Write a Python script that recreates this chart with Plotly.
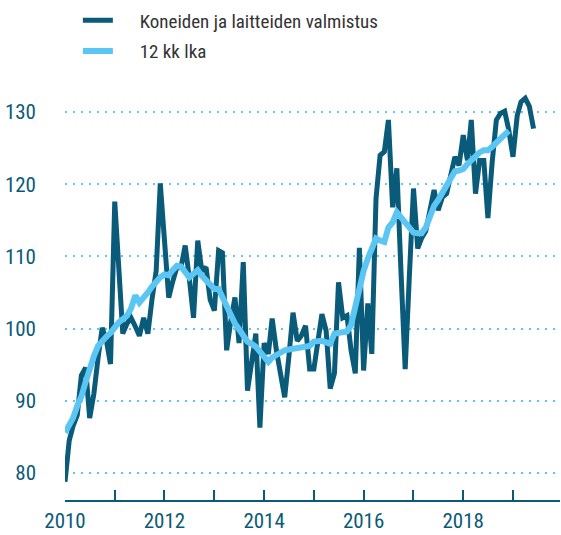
import pandas as pd
import plotly.graph_objects as go

DARK = "#0a5a79"
LIGHT = "#5bc6f3"

series_name = "Koneiden ja laitteiden valmistus"
ma_name = "12 kk lka"

start_month = "2010-01-01"

values = [
    78.8, 84.5, 86.5, 88.0, 93.5, 94.6, 87.6, 91.0, 96.0, 100.1, 98.3, 95.1,
    117.6, 107.5, 99.3, 100.7, 101.5, 100.3, 99.0, 101.5, 99.3, 104.0, 108.0, 120.1,
    111.0, 104.3, 106.5, 108.5, 108.5, 111.5, 107.0, 101.5, 112.2, 108.0, 108.5, 104.0,
    102.5, 110.8, 110.5, 97.0, 101.0, 104.3, 98.0, 109.2, 91.4, 95.0, 99.3, 86.3,
    98.0, 96.5, 101.4, 97.0, 94.0, 90.5, 96.0, 102.2, 98.3, 99.0, 100.4, 94.4,
    94.4, 98.0, 102.0, 99.7, 91.7, 93.8, 106.4, 101.5, 101.8, 97.0, 93.8, 111.2,
    94.2, 103.5, 96.5, 118.0, 124.0, 124.5, 128.9, 116.8, 122.2, 108.0, 94.4, 107.0,
    119.4, 111.1, 112.5, 113.5, 116.0, 119.2, 116.4, 118.2, 118.7, 121.5, 123.8, 122.6,
    126.8, 123.3, 128.9, 118.7, 123.3, 123.3, 115.3, 123.0, 128.9, 129.8, 130.1, 127.5,
    123.8, 129.5, 131.4, 131.9, 130.8, 127.7,
]

moving_avg = [
    85.6, 86.6, 87.6, 89.3, 90.6, 92.6, 94.6, 96.2, 97.6, 98.4, 98.9, 99.4,
    100.3, 100.9, 101.3, 101.8, 102.8, 104.6, 103.6, 104.2, 105.0, 105.8, 106.5, 107.1,
    107.5, 107.4, 108.1, 108.7, 108.6, 107.9, 107.1, 107.6, 108.1, 107.3, 106.6, 106.0,
    105.5, 105.5, 104.3, 103.0, 101.8, 100.7, 99.9, 99.0, 98.2, 97.9, 97.5, 96.8,
    96.0, 95.4, 96.0, 96.4, 96.7, 97.0, 97.1, 97.2, 97.3, 97.4, 97.3, 97.6,
    98.2, 98.3, 98.3, 98.1, 97.9, 99.3, 99.4, 99.4, 99.6, 100.5, 103.0, 106.0,
    108.0, 109.7, 111.3, 112.5, 112.2, 112.0, 114.0, 114.7, 116.1, 115.4, 114.7, 114.0,
    113.3, 113.2, 113.2, 114.0, 115.6, 117.0, 117.8, 118.8, 119.9, 121.0, 121.8, 121.9,
    122.1, 122.8, 123.4, 123.9, 124.4, 124.7, 124.7, 125.2, 125.7, 126.4, 126.9, 127.4,
]

tick_years = list(range(2010, 2020))
tick_labels = [str(y) if y % 2 == 0 else "" for y in tick_years]
y_ticks = [80, 90, 100, 110, 120, 130]

dates = pd.date_range(start_month, periods=len(values), freq="MS")
ma_dates = dates[: len(moving_avg)]

FONT = "Roboto Condensed, DejaVu Sans Condensed, sans-serif"
PAD = "\u00a0" * 5

fig = go.Figure()
fig.add_trace(go.Scatter(
    x=dates, y=values, mode="lines", name=PAD + series_name, legendgroup="a",
    line=dict(color=DARK, width=5),
))
fig.add_trace(go.Scatter(
    x=ma_dates, y=moving_avg, mode="lines", name=PAD + ma_name, legendgroup="b",
    line=dict(color=LIGHT, width=6),
))

fig.update_layout(
    width=561, height=535,
    margin=dict(l=65, r=1, t=90, b=35, autoexpand=False),
    paper_bgcolor="white", plot_bgcolor="white",
    font=dict(family=FONT, color=DARK, size=20),
    showlegend=True,
    legend=dict(
        x=0.026, y=1.216, xanchor="left", yanchor="top",
        font=dict(family=FONT, size=19, color="#333333"),
        bgcolor="rgba(0,0,0,0)", tracegroupgap=3,
    ),
    xaxis=dict(
        type="date",
        range=["2010-01-01", "2019-12-12"],
        tickvals=[f"{y}-01-01" for y in tick_years],
        ticktext=tick_labels,
        ticks="inside", ticklen=10, tickwidth=2, tickcolor=DARK,
        showline=True, linecolor=DARK, linewidth=2,
        showgrid=False, zeroline=False,
        tickfont=dict(family=FONT, size=21, color=DARK),
        ticklabelstandoff=1,
    ),
    yaxis=dict(
        range=[76.26, 133.05],
        tickvals=y_ticks,
        showgrid=True, gridcolor=LIGHT, gridwidth=2, griddash="2px,6px",
        ticks="", showline=False, zeroline=False,
        tickfont=dict(family=FONT, size=21, color=DARK),
        ticklabelstandoff=28,
    ),
)

fig.write_html(
    "out.html",
    config={"displayModeBar": False},
    post_script="document.body.style.margin='0';document.body.style.overflow='hidden';",
)
